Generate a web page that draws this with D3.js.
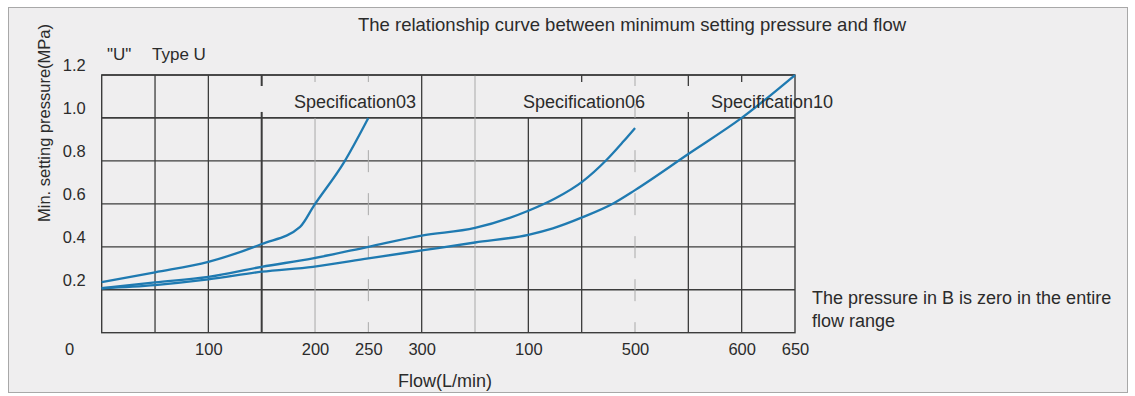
<!DOCTYPE html>
<html>
<head>
<meta charset="utf-8">
<script src="https://cdn.jsdelivr.net/npm/d3@7"></script>
<style>
  html, body { margin: 0; padding: 0; background: #ffffff; }
  svg { display: block; }
  text { font-family: "Liberation Sans", Arial, sans-serif; fill: #2b2b2b; }
</style>
</head>
<body>
<script>
// ---- data ----
const flowTicks = [100, 200, 250, 300, 400, 500, 600, 650];
const flowTickLabels = ["100", "200", "250", "300", "100", "500", "600", "650"];
const pressureTicks = [0.2, 0.4, 0.6, 0.8, 1.0, 1.2];
const gridFlows = [50, 100, 150, 200, 250, 300, 350, 400, 450, 500, 550, 600];

const spec03Flow = [0, 50, 100, 150, 186, 199, 227, 250];
const spec03Pressure = [0.235, 0.281, 0.330, 0.413, 0.493, 0.592, 0.792, 1.0];

const spec06Flow = [0, 50, 100, 150, 198, 250, 300, 350, 400, 425, 451, 473, 489, 500];
const spec06Pressure = [0.207, 0.234, 0.260, 0.307, 0.346, 0.400, 0.452, 0.488, 0.568, 0.625, 0.705, 0.803, 0.890, 0.953];

const spec10Flow = [0, 50, 100, 150, 198, 250, 300, 350, 400, 423, 451, 480, 500, 550, 600, 650];
const spec10Pressure = [0.207, 0.222, 0.248, 0.284, 0.307, 0.346, 0.383, 0.420, 0.456, 0.486, 0.538, 0.603, 0.664, 0.832, 1.0, 1.2];

const seriesNames = ["Specification03", "Specification06", "Specification10"];

// ---- layout ----
const W = 1135, H = 396;
const svg = d3.select("body").append("svg").attr("width", W).attr("height", H);

svg.append("rect").attr("x", 8.5).attr("y", 7.5).attr("width", 1119).attr("height", 385)
  .attr("fill", "#efeeef").attr("stroke", "#a8a8a8").attr("stroke-width", 1);

const x = d3.scaleLinear().domain([0, 650]).range([101.7, 795]);
const y = d3.scaleLinear().domain([0, 1.2]).range([332.7, 75]);

const dark = "#3c3c3c", light = "#a9a9a9";
const g = svg.append("g");

// horizontal grid lines
pressureTicks.forEach(p => {
  g.append("line").attr("x1", x(0)).attr("x2", x(650)).attr("y1", y(p)).attr("y2", y(p))
    .attr("stroke", dark).attr("stroke-width", p === 1.0 ? 1.8 : 1.3);
});

// vertical grid lines
const lightFlows = [200, 350];
const dashedFlows = [250, 500];
const fullTopBand = [50, 100, 300, 350];
gridFlows.forEach(f => {
  const isLight = lightFlows.includes(f), isDashed = dashedFlows.includes(f);
  const col = isLight || isDashed ? light : dark;
  const sw = f === 150 ? 2 : (isLight || isDashed ? 1 : 1.3);
  const ln = g.append("line").attr("x1", x(f)).attr("x2", x(f))
    .attr("y1", isDashed ? y(0.85) : y(1.0)).attr("y2", y(0))
    .attr("stroke", col).attr("stroke-width", sw);
  if (isDashed) ln.attr("stroke-dasharray", "22,21");
  if (fullTopBand.includes(f)) {
    g.append("line").attr("x1", x(f)).attr("x2", x(f)).attr("y1", y(1.2)).attr("y2", y(1.0))
      .attr("stroke", col).attr("stroke-width", sw);
  } else if (f !== 400) {
    const len = (f === 500 || f === 150 || f === 550) ? 11 : 7;
    g.append("line").attr("x1", x(f)).attr("x2", x(f)).attr("y1", y(1.2)).attr("y2", y(1.2) + len)
      .attr("stroke", col).attr("stroke-width", sw);
    if (f === 150 || f === 550 || f === 500) {
      const blen = f === 500 ? 14 : 6;
      g.append("line").attr("x1", x(f)).attr("x2", x(f)).attr("y1", y(1.0) - blen).attr("y2", y(1.0))
        .attr("stroke", col).attr("stroke-width", sw);
    }
  }
});

// plot border
g.append("rect").attr("x", x(0)).attr("y", y(1.2)).attr("width", x(650) - x(0)).attr("height", y(0) - y(1.2))
  .attr("fill", "none").attr("stroke", dark).attr("stroke-width", 1.4);

// curves
const line = d3.line().x(d => x(d[0])).y(d => y(d[1])).curve(d3.curveMonotoneX);
const series = [
  d3.zip(spec03Flow, spec03Pressure),
  d3.zip(spec06Flow, spec06Pressure),
  d3.zip(spec10Flow, spec10Pressure)
];
series.forEach(s => {
  g.append("path").datum(s).attr("d", line).attr("fill", "none")
    .attr("stroke", "#1f7ab1").attr("stroke-width", 2.3).attr("stroke-linejoin", "round");
});

// series labels
svg.append("text").attr("x", 294).attr("y", 108).attr("font-size", 18).text(seriesNames[0]);
svg.append("text").attr("x", 523).attr("y", 108).attr("font-size", 18).text(seriesNames[1]);
svg.append("text").attr("x", 711).attr("y", 108).attr("font-size", 18).text(seriesNames[2]);

// axes
const xAxis = d3.axisBottom(x).tickValues(flowTicks).tickSize(0).tickPadding(0)
  .tickFormat((d, i) => flowTickLabels[i]);
const xg = svg.append("g").attr("transform", `translate(0,${y(0)})`).call(xAxis);
xg.select(".domain").remove();
xg.selectAll("text").attr("y", 22.5).attr("dy", null).attr("font-size", 16.5)
  .attr("font-family", "Liberation Sans, Arial, sans-serif").attr("fill", "#2b2b2b");

const yAxis = d3.axisLeft(y).tickValues(pressureTicks).tickSize(0).tickPadding(0)
  .tickFormat(d3.format(".1f"));
const yg = svg.append("g").attr("transform", `translate(${x(0)},0)`).call(yAxis);
yg.select(".domain").remove();
yg.selectAll("text").attr("x", -16).attr("dy", "-4.5").attr("font-size", 16.5)
  .attr("font-family", "Liberation Sans, Arial, sans-serif").attr("fill", "#2b2b2b");

// origin label
svg.append("text").attr("x", x(0) - 32).attr("y", y(0) + 22.5).attr("text-anchor", "middle")
  .attr("font-size", 16.5).text("0");

// titles
svg.append("text").attr("x", 632).attr("y", 31).attr("text-anchor", "middle").attr("font-size", 18.5)
  .text("The relationship curve between minimum setting pressure and flow");
svg.append("text").attr("x", 107).attr("y", 59.5).attr("font-size", 17).text('"U"');
svg.append("text").attr("x", 152).attr("y", 59.5).attr("font-size", 17).text("Type U");

svg.append("text").attr("transform", `translate(50,123) rotate(-90)`).attr("text-anchor", "middle")
  .attr("font-size", 16.5).text("Min. setting pressure(MPa)");
svg.append("text").attr("x", 445).attr("y", 387).attr("text-anchor", "middle").attr("font-size", 18)
  .text("Flow(L/min)");

svg.append("text").attr("x", 812).attr("y", 304).attr("font-size", 18)
  .text("The pressure in B is zero in the entire");
svg.append("text").attr("x", 812).attr("y", 327).attr("font-size", 18).text("flow range");
</script>
</body>
</html>
